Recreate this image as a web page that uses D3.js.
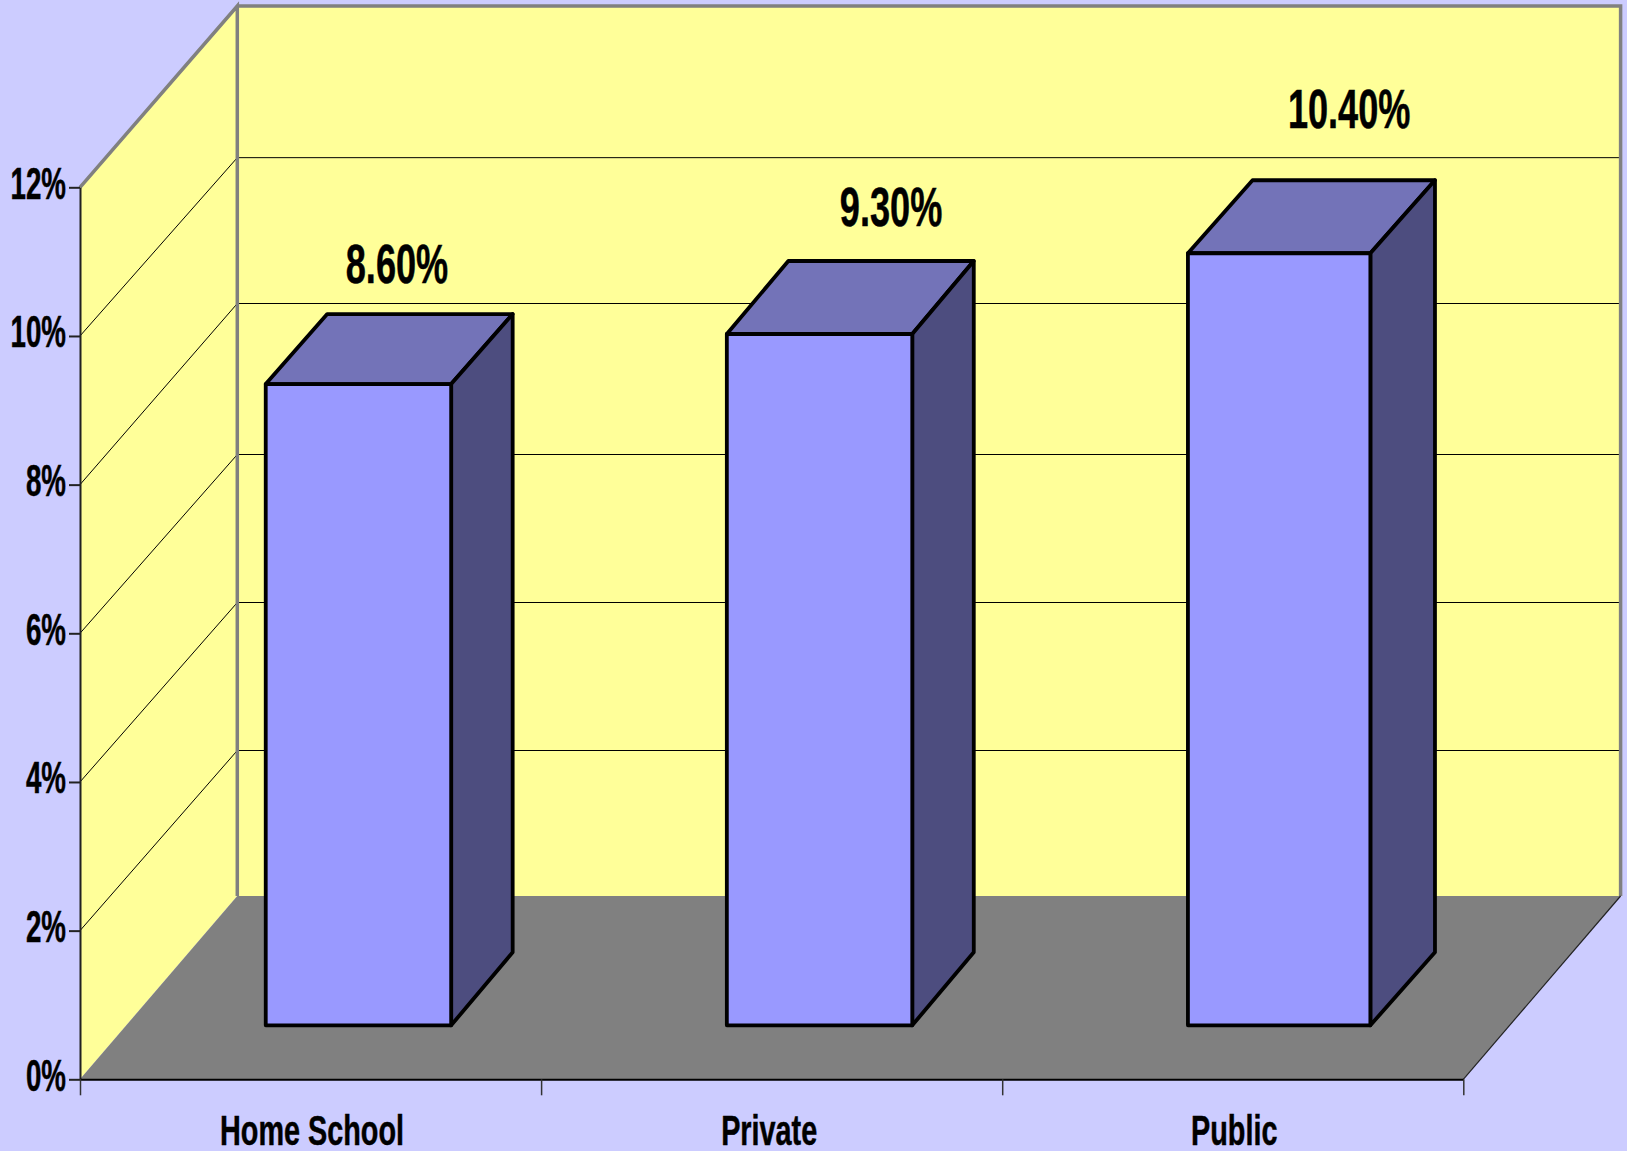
<!DOCTYPE html>
<html><head><meta charset="utf-8">
<script src="https://cdn.jsdelivr.net/npm/d3@7/dist/d3.min.js"></script>
<style>html,body{margin:0;padding:0;background:#CCCCFF;overflow:hidden}svg{display:block}text{font-family:"Liberation Sans",Arial,sans-serif;font-weight:bold;fill:#000;stroke:#000;stroke-width:.5px}</style>
</head><body><svg id="c" width="1627" height="1151"></svg>
<script>
const categories = ["Home School", "Private", "Public"];
const values = [8.6, 9.3, 10.4];
const valueLabels = ["8.60%", "9.30%", "10.40%"];
const yTicks = [0, 2, 4, 6, 8, 10, 12];

// layout
const svg = d3.select("#c");
const x0 = 80, x1 = 1463.3, wallDx = 157.3, floorBackY = 896, wallTopY = 6;
const y = d3.scaleLinear().domain([0, 12]).range([1079.3, 187.3]);
const yBack = d3.scaleLinear().domain([0, 12]).range([898.5, 9.5]);
const x = d3.scaleBand().domain(categories).range([x0, x1]).paddingInner(0.6).paddingOuter(0.3);
const xTickScale = d3.scaleLinear().domain([0, 3]).range([x0, x1]);
const baseDx = 47.4, baseDy = -54;
const sideDxs = [61.5, 61.5, 64.6], sideDys = [-70, -73, -73], widthAdj = [1, 1, -2], topAdj = [-2, 0, 1];
const labelDx = [39, 72, 69], labelLift = [101, 108, 125], catNudge = [1.5, -2.5, 1.5];
const line = d3.line();

// walls and floor
svg.append("path").attr("d", line([[x0, y(0)], [x0, y(12)], [x0 + wallDx, wallTopY], [x0 + wallDx, floorBackY]]) + "Z").attr("fill", "#FFFF99");
svg.append("rect").attr("x", x0 + wallDx).attr("y", wallTopY).attr("width", x1 - x0).attr("height", floorBackY - wallTopY).attr("fill", "#FFFF99");
svg.append("path").attr("d", line([[x0, y(0)], [x0 + wallDx, floorBackY], [x1 + wallDx, floorBackY], [x1, y(0)]]) + "Z").attr("fill", "#808080");

// gridlines
const grid = svg.append("g").attr("fill", "none").attr("stroke", "#000").attr("stroke-width", 1);
yTicks.filter(d => d > 0 && d < 12).forEach(d => {
  const by = d === 10 ? yBack(d) : Math.round(yBack(d)) + 0.5 - (d === 8 ? 3 : 0);
  grid.append("path").attr("d", line([[x0, y(d)], [x0 + wallDx, by], [x1 + wallDx, by]]));
});

// wall borders
svg.append("path").attr("fill", "none").attr("stroke", "#808080").attr("stroke-width", 3.5)
  .attr("d", line([[x0, y(12)], [x0 + wallDx, wallTopY], [x0 + wallDx, floorBackY]]));
svg.append("path").attr("fill", "none").attr("stroke", "#808080").attr("stroke-width", 3.5)
  .attr("d", line([[x0 + wallDx, wallTopY], [x1 + wallDx, wallTopY], [x1 + wallDx, floorBackY]]));
svg.append("path").attr("fill", "none").attr("stroke", "#222").attr("stroke-width", 1.2)
  .attr("d", line([[x1 + wallDx, floorBackY], [x1, y(0)]]));

// bars
const bars = svg.append("g").selectAll("g").data(categories).join("g")
  .attr("stroke", "#000").attr("stroke-width", 3.8).attr("stroke-linejoin", "round");
bars.each(function (c, i) {
  const g = d3.select(this);
  const w = x.bandwidth() + widthAdj[i];
  const l = x(c) + baseDx, r = l + w;
  const b = y(0) + baseDy, t = b - (y(0) - y(values[i])) + topAdj[i];
  const sx = sideDxs[i], sy = sideDys[i];
  g.append("path").attr("fill", "#7373B8").attr("d", line([[l, t], [l + sx, t + sy], [r + sx, t + sy], [r, t]]) + "Z");
  g.append("path").attr("fill", "#4D4D7F").attr("d", line([[r, t], [r + sx, t + sy], [r + sx, b - 73], [r, b]]) + "Z");
  g.append("rect").attr("fill", "#9999FF").attr("x", l).attr("y", t).attr("width", w).attr("height", b - t);
  svg.append("text").attr("text-anchor", "middle").attr("font-size", 56)
    .attr("transform", `translate(${l + x.bandwidth() / 2 + labelDx[i]},${t - labelLift[i]}) scale(0.645,1)`)
    .text(valueLabels[i]);
});

// y axis
const gy = svg.append("g").attr("transform", `translate(${x0},0)`)
  .call(d3.axisLeft(y).tickValues(yTicks).tickSize(11).tickSizeOuter(0).tickFormat(d => d + "%"));
gy.selectAll("path,line").attr("stroke", "#222").attr("stroke-width", 2);
gy.selectAll("text").attr("x", 0).attr("y", 0).attr("dy", 0).attr("font-size", 44).attr("font-family", null)
  .attr("transform", "translate(-14,11) scale(0.63,1)").attr("text-anchor", "end");

// x axis
const gx = svg.append("g").attr("transform", `translate(0,${y(0)})`)
  .call(d3.axisBottom(xTickScale).tickValues([0, 1, 2, 3]).tickSize(16).tickSizeOuter(0).tickFormat(""));
gx.selectAll("path").attr("stroke", "#000").attr("stroke-width", 2);
gx.selectAll("line").attr("stroke", "#333").attr("stroke-width", 1.5);
svg.append("g").selectAll("text").data(categories).join("text")
  .attr("text-anchor", "middle").attr("font-size", 43)
  .attr("transform", (c, i) => `translate(${x(c) + x.bandwidth() / 2 + catNudge[i]},1145) scale(0.67,1)`)
  .text(c => c);
</script></body></html>
